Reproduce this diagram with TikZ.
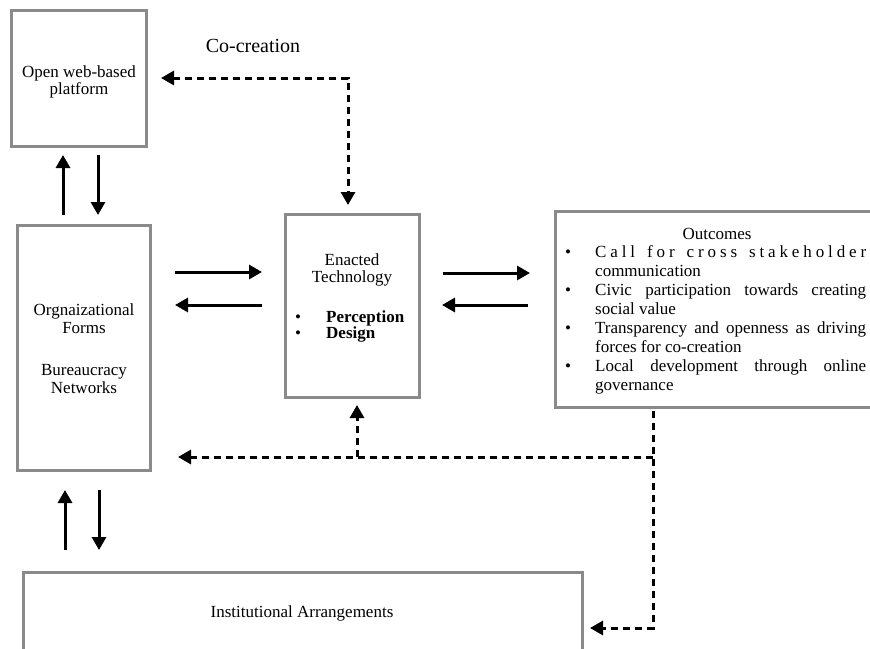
\documentclass[tikz,border=0pt]{standalone}
\usepackage{fontspec}
\setmainfont{Liberation Serif}
\usetikzlibrary{arrows.meta}
\definecolor{boxgray}{RGB}{138,138,138}
\tikzset{
  box/.style={draw=boxgray, line width=3pt, inner sep=0pt},
  flow/.style={line width=3pt, -{Triangle[length=13pt,width=14pt]}},
  link/.style={line width=3pt, dash pattern=on 7pt off 5pt, -{Triangle[length=13pt,width=14pt]}},
  linkboth/.style={line width=3pt, dash pattern=on 7pt off 5pt, {Triangle[length=13pt,width=14pt]}-{Triangle[length=13pt,width=14pt]}},
  txt/.style={anchor=base, inner sep=0pt, font=\fontsize{17}{19}\selectfont},
  ltxt/.style={txt, anchor=base west},
}
\newcommand{\fullline}[1]{\makebox[271pt][s]{#1}}

\begin{document}
\begin{tikzpicture}[x=1pt,y=-1pt]
\useasboundingbox (0,0) rectangle (870,648);
\clip (0,0) rectangle (870,648);

% boxes
\node[box, minimum width=135pt, minimum height=136pt] (web) at (78.5,78) {};
\node[box, minimum width=133pt, minimum height=245pt] (org) at (83.5,347.5) {};
\node[box, minimum width=134pt, minimum height=183pt] (enact) at (352,305.5) {};
\node[box, minimum width=325pt, minimum height=196pt] (outc) at (717.5,309) {};
\node[box, minimum width=559pt, minimum height=90pt] (inst) at (302.5,617) {};

% platform
\node[txt] (webA) at (79,77) {Open web-based};
\node[txt] (webB) at (79,94) {platform};
\node[txt, font=\fontsize{20}{24}\selectfont] (cocr) at (253,52) {Co-creation};

% organizational forms
\node[txt] (orgA) at (84,315) {Orgnaizational};
\node[txt] (orgB) at (84,333) {Forms};
\node[txt] (orgC) at (84,375) {Bureaucracy};
\node[txt] (orgD) at (84,393) {Networks};

% enacted technology
\node[txt] (enA) at (352,265) {Enacted};
\node[txt] (enB) at (352,282) {Technology};
\node[txt] (enb1) at (298,322) {\textbullet};
\node[txt] (enb2) at (298,338) {\textbullet};
\node[ltxt] (enC) at (326,322) {\textbf{Perception}};
\node[ltxt] (enD) at (326,338) {\textbf{Design}};

% outcomes
\node[txt] (ouT) at (717,239) {Outcomes};
\node[txt] (oub1) at (568,257) {\textbullet};
\node[txt] (oub2) at (568,295) {\textbullet};
\node[txt] (oub3) at (568,333) {\textbullet};
\node[txt] (oub4) at (568,371) {\textbullet};
\node[ltxt] (ou1) at (595,257) {\fullline{C\hfil a\hfil l\hfil l\hfil\ \hfil f\hfil o\hfil r\hfil\ \hfil c\hfil r\hfil o\hfil s\hfil s\hfil\ \hfil s\hfil t\hfil a\hfil k\hfil e\hfil h\hfil o\hfil l\hfil d\hfil e\hfil r}};
\node[ltxt] (ou2) at (595,276) {communication};
\node[ltxt] (ou3) at (595,295) {\fullline{Civic participation towards creating}};
\node[ltxt] (ou4) at (595,314) {social value};
\node[ltxt] (ou5) at (595,333) {\fullline{Transparency and openness as driving}};
\node[ltxt] (ou6) at (595,352) {forces for co-creation};
\node[ltxt] (ou7) at (595,371) {\fullline{Local development through online}};
\node[ltxt] (ou8) at (595,390) {governance};

% institutional arrangements
\node[txt] (instT) at (302,617) {Institutional Arrangements};

% solid connectors
\coordinate (wu0) at (63,215);  \coordinate (wu1) at (63,155);
\coordinate (wd0) at (98,155);  \coordinate (wd1) at (98,215);
\draw[flow] (wu0) -- (wu1);
\draw[flow] (wd0) -- (wd1);

\coordinate (oe0) at (175,272); \coordinate (oe1) at (262,272);
\coordinate (eo0) at (262,305); \coordinate (eo1) at (175,305);
\draw[flow] (oe0) -- (oe1);
\draw[flow] (eo0) -- (eo1);

\coordinate (eu0) at (443,273); \coordinate (eu1) at (530,273);
\coordinate (ue0) at (528,305); \coordinate (ue1) at (442,305);
\draw[flow] (eu0) -- (eu1);
\draw[flow] (ue0) -- (ue1);

\coordinate (iu0) at (65,550);  \coordinate (iu1) at (65,490);
\coordinate (id0) at (99,490);  \coordinate (id1) at (99,550);
\draw[flow] (iu0) -- (iu1);
\draw[flow] (id0) -- (id1);

% dashed feedback paths
\coordinate (ccW) at (161,78); \coordinate (ccC) at (348,78); \coordinate (ccS) at (348,205);
\draw[linkboth] (ccW) -- (ccC) -- (ccS);

\coordinate (fb0) at (653,411); \coordinate (fb1) at (653,628); \coordinate (fb2) at (590,628);
\draw[link] (fb0) -- (fb1) -- (fb2);

\coordinate (hb0) at (653,457); \coordinate (hb1) at (178,457);
\draw[link] (hb0) -- (hb1);
\coordinate (vb0) at (357,457); \coordinate (vb1) at (357,405);
\draw[link] (vb0) -- (vb1);
\end{tikzpicture}
\end{document}
